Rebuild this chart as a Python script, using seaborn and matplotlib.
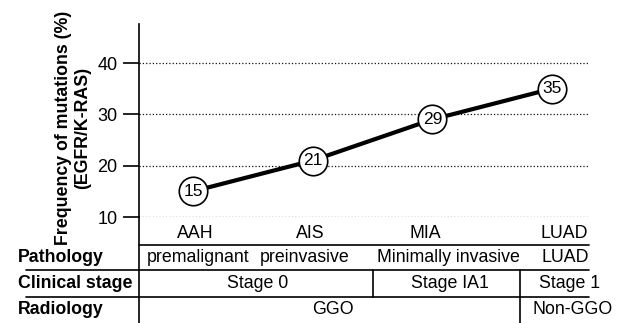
import matplotlib
matplotlib.use('Agg')
import matplotlib.pyplot as plt
import seaborn as sns
import pandas as pd
from matplotlib.lines import Line2D

# data
stages = ['AAH', 'AIS', 'MIA', 'LUAD']
freq = [15, 21, 29, 35]
pathology = ['premalignant', 'preinvasive', 'Minimally invasive', 'LUAD']
clinical = ['Stage 0', 'Stage IA1', 'Stage 1']
radiology = ['GGO', 'Non-GGO']

sns.set_style('white')
plt.rcParams['font.family'] = ['Liberation Sans', 'DejaVu Sans']
plt.rcParams['text.color'] = 'black'
plt.rcParams['ytick.labelcolor'] = 'black'

W, H = 620, 323
fig = plt.figure(figsize=(W / 100, H / 100), dpi=100)


def fx(x):
    return x / W


def fy(y):
    return 1 - y / H


ax = fig.add_axes([fx(139), fy(217), (589 - 139) / W, (217 - 24) / H])

df = pd.DataFrame({'pos': range(len(stages)), 'freq': freq})
sns.lineplot(data=df, x='pos', y='freq', ax=ax, color='black', lw=3.0,
             marker='o', markersize=20.5, markerfacecolor='white',
             markeredgecolor='black', markeredgewidth=1.2, clip_on=False)
for i, v in enumerate(freq):
    ax.text(i, v, str(v), ha='center', va='center', fontsize=12.5,
            color='black', zorder=5)

ax.set_xlim(-0.451, 3.309)
ax.set_ylim(10, 47.6)
ax.set_yticks([10, 20, 30, 40])
ax.set_xticks([])
ax.set_xlabel('')
ax.set_ylabel('')
ax.yaxis.grid(True, ls=':', lw=0.9, color='#111111')
for s in ['top', 'right', 'bottom']:
    ax.spines[s].set_visible(False)
ax.spines['left'].set_linewidth(1.2)
ax.spines['left'].set_color('black')
ax.tick_params(axis='y', left=True, length=11.5, width=1.2, pad=4,
               labelsize=13, color='black', labelcolor='black')

# y label
fig.text(fx(63), fy(128), 'Frequency of mutations (%)', rotation=90,
         ha='center', va='center', fontsize=12.8, fontweight='bold')
fig.text(fx(83), fy(128), '(EGFR/K-RAS)', rotation=90,
         ha='center', va='center', fontsize=12.8, fontweight='bold')

# table lines
lw = 1.2
segs = [
    ((139, 139), (217, 323)),
    ((139, 589), (245, 245)),
    ((26, 589), (269.5, 269.5)),
    ((26, 589), (297, 297)),
    ((373, 373), (269.5, 297)),
    ((520, 520), (269.5, 323)),
]
for xs, ys in segs:
    fig.add_artist(Line2D([fx(x) for x in xs], [fy(y) for y in ys],
                          transform=fig.transFigure, color='black', lw=lw))

fs = 12.8
# stage labels
for x, t in zip([195, 310, 425, 564], stages):
    fig.text(fx(x), fy(233), t, ha='center', va='center', fontsize=fs)

# row labels
for y, t in zip([257, 283, 309], ['Pathology', 'Clinical stage', 'Radiology']):
    fig.text(fx(18), fy(y), t, ha='left', va='center', fontsize=fs,
             fontweight='bold')

for x, t in zip([198, 305, 448, 565], pathology):
    fig.text(fx(x), fy(257), t, ha='center', va='center', fontsize=fs)
for x, t in zip([258, 450, 570], clinical):
    fig.text(fx(x), fy(283), t, ha='center', va='center', fontsize=fs)
for x, t in zip([333, 573], radiology):
    fig.text(fx(x), fy(309), t, ha='center', va='center', fontsize=fs)

fig.savefig('out.png', dpi=100)
